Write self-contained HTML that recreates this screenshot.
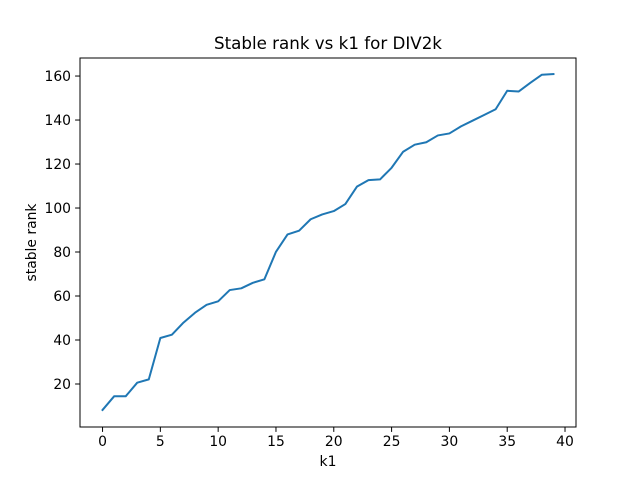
<!DOCTYPE html>
<html><head><meta charset="utf-8"><style>
body{margin:0;background:#fff}
svg{display:block;font-family:"DejaVu Sans","Liberation Sans",sans-serif}
</style></head><body>
<svg id="chart" width="640" height="480">
<rect width="640" height="480" fill="#fff"/>
</svg>
<script>
const xValues=[0,1,2,3,4,5,6,7,8,9,10,11,12,13,14,15,16,17,18,19,20,21,22,23,24,25,26,27,28,29,30,31,32,33,34,35,36,37,38,39];
const stableRank=[8.2,14.4,14.4,20.6,22.1,40.9,42.4,47.9,52.4,56,57.6,62.7,63.5,66,67.6,80.1,88,89.7,94.9,97.1,98.6,101.8,109.7,112.7,113,118.3,125.6,128.8,129.9,133,133.9,137.1,139.7,142.3,144.9,153.3,153,156.9,160.6,160.9];
const xTicks=[0,5,10,15,20,25,30,35,40];
const yTicks=[20,40,60,80,100,120,140,160];
const L=80,R=576,T=58,B=427;
const xmin=-1.95,xmax=40.95,ymin=0.45,ymax=168.2;
const sx=v=>L+(v-xmin)/(xmax-xmin)*(R-L);
const sy=v=>B-(v-ymin)/(ymax-ymin)*(B-T);
const svg=document.getElementById('chart');
const NS='http://www.w3.org/2000/svg';
function mk(tag,attrs,parent){const e=document.createElementNS(NS,tag);for(const k in attrs)e.setAttribute(k,attrs[k]);(parent||svg).appendChild(e);return e;}
let d='';
xValues.forEach((x,i)=>{d+=(i?'L':'M')+sx(x).toFixed(2)+' '+sy(stableRank[i]).toFixed(2);});
const line=mk('path',{d:d,fill:'none',stroke:'#1f77b4','stroke-width':2,'stroke-linejoin':'round','stroke-linecap':'square'});


const frame=mk('rect',{x:L,y:T,width:R-L,height:B-T,fill:'none',stroke:'#000','stroke-width':1});


xTicks.forEach(t=>{
  const g=mk('g',{});
  
  
  mk('line',{x1:sx(t),x2:sx(t),y1:B,y2:B+4.9,stroke:'#000','stroke-width':1},g);
  const tx=mk('text',{x:sx(t),y:B+19,'font-size':13.9,'text-anchor':'middle'},g);tx.textContent=t;
});
yTicks.forEach(t=>{
  const g=mk('g',{});
  
  
  mk('line',{x1:L-4.9,x2:L,y1:sy(t),y2:sy(t),stroke:'#000','stroke-width':1},g);
  const tx=mk('text',{x:L-9,y:sy(t)+5,'font-size':13.9,'text-anchor':'end'},g);tx.textContent=t;
});
const title=mk('text',{x:(L+R)/2,y:49,'font-size':16.7,'text-anchor':'middle'});title.textContent='Stable rank vs k1 for DIV2k';


const xl=mk('text',{x:(L+R)/2,y:466,'font-size':13.9,'text-anchor':'middle'});xl.textContent='k1';


const yl=mk('text',{x:0,y:0,'font-size':13.9,'text-anchor':'middle',transform:'translate(36 '+((T+B)/2)+') rotate(-90)'});yl.textContent='stable rank';


</script>
</body></html>
